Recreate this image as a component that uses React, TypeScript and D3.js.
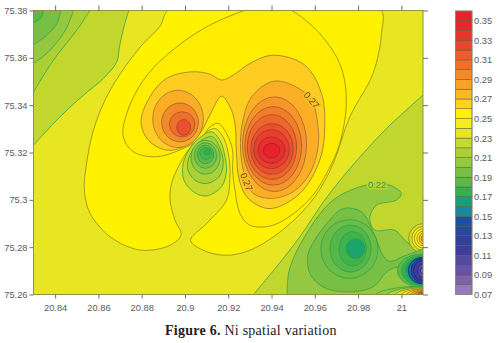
import React, { useEffect, useRef } from "react";
import * as d3 from "d3";

type Pt = [number, number];

const xDomain: Pt = [20.83, 21.01];
const yDomain: Pt = [75.26, 75.38];
const xTicks = [20.84, 20.86, 20.88, 20.9, 20.92, 20.94, 20.96, 20.98, 21];
const yTicks = [75.26, 75.28, 75.3, 75.32, 75.34, 75.36, 75.38];

const barLevels = [0.07,0.08,0.09,0.1,0.11,0.12,0.13,0.14,0.15,0.16,0.17,0.18,0.19,0.2,0.21,0.22,0.23,0.24,0.25,0.26,0.27,0.28,0.29,0.3,0.31,0.32,0.33,0.34,0.35];
const barColors = ["#9479bd","#7b62ae","#6552a5","#524a9f","#3d3e9b","#30409c","#27489f","#1d50a5","#1a86a3","#12a076","#36b04f","#5bb947","#78c044","#93c83f","#abcf36","#c7d92d","#e8e520","#f5ec1e","#fff200","#ffd21f","#fdb827","#f8a228","#f3892a","#ef702b","#ed5b2c","#ea452d","#e8352c","#e7272d","#e9222a"];
const barTicks = [0.07,0.09,0.11,0.13,0.15,0.17,0.19,0.21,0.23,0.25,0.27,0.29,0.31,0.33,0.35];

// Contour lines, in data units (longitude, latitude)
const cornerLine23: Pt[] = [[20.8743,75.3808],[20.8718,75.3731],[20.8697,75.3646],[20.8685,75.3583],[20.8623,75.3513],[20.8531,75.3442],[20.8423,75.3351],[20.83,75.3231]];
const cornerLine22: Pt[] = [[20.8566,75.3808],[20.85,75.3717],[20.8392,75.359],[20.83,75.3456]];
const cornerLine21: Pt[] = [[20.8488,75.3808],[20.8462,75.3745],[20.8438,75.3703],[20.8369,75.3625],[20.83,75.3576]];
const cornerLine20: Pt[] = [[20.8428,75.3808],[20.8408,75.3745],[20.8362,75.3696],[20.83,75.3656]];
const cornerLine19: Pt[] = [[20.8346,75.3808],[20.8338,75.3773],[20.83,75.3748]];

const yellowOutline: Pt[] = [[20.8931,75.3808],[20.8885,75.3734],[20.8808,75.3661],[20.8723,75.3562],[20.8638,75.3435],[20.8577,75.3294],[20.8543,75.3139],[20.8535,75.3041],[20.8562,75.2942],[20.8654,75.2844],[20.8762,75.2794],[20.8838,75.2787],[20.8931,75.2808],[20.8982,75.2851],[20.8954,75.2914],[20.8931,75.2999],[20.8938,75.3069],[20.8969,75.3139],[20.9015,75.321],[20.9069,75.3263],[20.9138,75.3301],[20.918,75.3259],[20.9205,75.3168],[20.9208,75.3097],[20.9192,75.2999],[20.91,75.29],[20.9026,75.283],[20.9069,75.2794],[20.9177,75.2766],[20.93,75.2787],[20.9469,75.2886],[20.96,75.3013],[20.9685,75.3154],[20.9762,75.3351],[20.9869,75.3534],[20.9908,75.3703],[20.99,75.3808]];
const wideOutline: Pt[] = [[20.9392,75.383],[20.9477,75.3808],[20.9608,75.3717],[20.9715,75.3576],[20.9746,75.3421],[20.9715,75.3238],[20.9662,75.3125],[20.9592,75.302],[20.9492,75.2935],[20.9392,75.2889],[20.93,75.2893],[20.9254,75.2942],[20.9231,75.3041],[20.922,75.3125],[20.922,75.321],[20.9192,75.328],[20.9154,75.3323],[20.9115,75.3308],[20.908,75.3266],[20.9008,75.3224],[20.8869,75.3182],[20.8762,75.3203],[20.8715,75.3266],[20.8731,75.3365],[20.8808,75.3506],[20.8915,75.3611],[20.91,75.3731],[20.93,75.3808]];
const dumbbellOutline: Pt[] = [[20.9169,75.3506],[20.9223,75.3527],[20.93,75.3576],[20.9408,75.3611],[20.9554,75.3569],[20.9631,75.3449],[20.9646,75.3308],[20.9623,75.3168],[20.9531,75.3027],[20.9392,75.2963],[20.9292,75.3006],[20.9251,75.3083],[20.9238,75.3196],[20.9231,75.3323],[20.9208,75.3393],[20.9169,75.3438],[20.9115,75.3358],[20.9069,75.328],[20.9,75.3227],[20.8915,75.321],[20.8831,75.3252],[20.8797,75.333],[20.8838,75.3435],[20.8915,75.3513],[20.9031,75.3541],[20.9115,75.3531]];
const ringLabelled27: Pt[] = [[20.9585,75.3421],[20.9615,75.3308],[20.9615,75.3224],[20.9577,75.3111],[20.95,75.3034],[20.94,75.3006],[20.9315,75.3027],[20.9277,75.3097],[20.9257,75.321],[20.9265,75.3323],[20.9308,75.3435],[20.9408,75.3501],[20.9508,75.348]];
const wellLoopOuter: Pt[] = [[20.9069,75.3263],[20.9123,75.3287],[20.9162,75.3252],[20.9185,75.3182],[20.9192,75.3125],[20.9169,75.3055],[20.91,75.3017],[20.9046,75.303],[20.8995,75.3083],[20.8992,75.3154],[20.9023,75.3217]];
const wellLoopInner: Pt[] = [[20.9077,75.3252],[20.9128,75.3266],[20.9162,75.3217],[20.9177,75.3154],[20.9157,75.3097],[20.91,75.3069],[20.9046,75.3083],[20.9012,75.3132],[20.9023,75.3189]];
const limeBoundary: Pt[] = [[21.0108,75.3449],[20.9931,75.3301],[20.9762,75.3132],[20.9646,75.2999],[20.9531,75.2844],[20.9423,75.2717],[20.9308,75.259]];
const line22: Pt[] = [[20.9472,75.259],[20.9482,75.2703],[20.9562,75.2858],[20.9685,75.2999],[20.9838,75.3062],[20.9946,75.3062],[21.0,75.3027],[20.9977,75.2999],[20.9885,75.2977],[20.9854,75.2921],[20.9877,75.2872],[20.9969,75.2872],[21.0023,75.2823],[21.0092,75.2785],[21.0123,75.2773]];
const neckLoop: Pt[] = [[20.9938,75.2742],[20.9869,75.2865],[20.9815,75.2949],[20.9731,75.2963],[20.9662,75.2907],[20.96,75.283],[20.9568,75.2766],[20.9577,75.2689],[20.9638,75.2632],[20.9746,75.2611],[20.9869,75.2632],[20.9938,75.27],[21.0038,75.2731],[21.013,75.2759],[21.013,75.2794],[21.0023,75.2766]];

// Rings read as ellipses: [colour band, centre x, centre y, radius x, radius y]
type Ring = [number, number, number, number, number];
const rightPeakRings: Ring[] = [[0.285,20.9414,75.3235,0.0148,0.02],[0.295,20.9408,75.3228,0.0131,0.0166],[0.305,20.9402,75.3223,0.0114,0.0137],[0.315,20.9402,75.3215,0.0098,0.0107],[0.325,20.94,75.3214,0.0082,0.0082],[0.335,20.94,75.321,0.0062,0.0056],[0.35,20.94,75.3208,0.0038,0.0031]];
const leftPeakRings: Ring[] = [[0.275,20.8968,75.3342,0.0117,0.0121],[0.29,20.8977,75.3327,0.0085,0.0082],[0.3,20.8987,75.3319,0.0059,0.0053],[0.315,20.8994,75.3306,0.0032,0.0033]];
const wellRings: Ring[] = [[0.2,20.9095,75.318,0.0067,0.0072],[0.19,20.9095,75.3187,0.0052,0.0054],[0.18,20.9095,75.3192,0.0038,0.0039],[0.175,20.9097,75.3196,0.0028,0.0025],[0.17,20.9102,75.3201,0.0014,0.0012]];
const blobRings: Ring[] = [[0.185,20.976,75.2792,0.0132,0.0124],[0.178,20.9765,75.2794,0.0095,0.0099],[0.172,20.9775,75.2793,0.0063,0.0073],[0.163,20.9788,75.2794,0.0043,0.0042]];
const edgeHighRings: Ring[] = [[0.225,21.0103,75.2837,0.0069,0.0063],[0.235,21.0103,75.2837,0.0055,0.0051],[0.245,21.0103,75.2837,0.0043,0.0041],[0.255,21.0103,75.2837,0.0031,0.0031],[0.265,21.0103,75.2837,0.002,0.0023],[0.28,21.0103,75.2837,0.0011,0.0014]];
const bottomHighRings: Ring[] = [[0.2,21.01,75.2586,0.0231,0.0049],[0.215,21.01,75.2586,0.0177,0.0046],[0.23,21.01,75.2586,0.0138,0.0042],[0.245,21.01,75.2586,0.0108,0.0039],[0.26,21.01,75.2586,0.0085,0.0037],[0.275,21.01,75.2586,0.0065,0.0034],[0.29,21.01,75.2586,0.0049,0.003],[0.31,21.01,75.2586,0.0034,0.0025],[0.33,21.01,75.2586,0.0018,0.0018]];
const edgeLowRings: Ring[] = [[0.18,21.0097,75.2701,0.0115,0.007],[0.17,21.0097,75.2701,0.0095,0.0065],[0.16,21.0097,75.2701,0.0077,0.0061],[0.145,21.0097,75.2701,0.0065,0.0056],[0.125,21.0097,75.2701,0.0052,0.0051],[0.11,21.0097,75.2701,0.004,0.0042],[0.1,21.0097,75.2701,0.0022,0.0028],[0.08,21.0097,75.2701,0.0009,0.0011]];

const lineLabels: { text: string; x: number; y: number; rot: number; bg: string; color: string }[] = [
  { text: "0.27", x: 20.9585, y: 75.3421, rot: 50, bg: "#fdc023", color: "#6b4a20" },
  { text: "0.27", x: 20.9285, y: 75.3076, rot: 68, bg: "#fdc023", color: "#6b4a20" },
  { text: "0.22", x: 20.9888, y: 75.3062, rot: 0, bg: "#b6d333", color: "#3f9a4c" },
];

export default function App() {
  const ref = useRef<SVGSVGElement>(null);
  useEffect(() => {
    const svg = d3.select(ref.current);
    svg.selectAll("*").remove();
    const x = d3.scaleLinear().domain(xDomain).range([33.5, 423]);
    const y = d3.scaleLinear().domain(yDomain).range([294.5, 10.5]);
    const col = d3.scaleLinear<string>().domain(barLevels).range(barColors).clamp(true);
    const lineColor = (b: number) => {
      if (b < 0.15) return "#1d2470";
      if (b < 0.225) return "#2f9f47";
      return d3.interpolateRgb(col(b), "#333333")(b > 0.27 ? 0.48 : 0.58);
    };
    const openLine = d3.line<Pt>().x((d) => x(d[0])).y((d) => y(d[1])).curve(d3.curveCatmullRom.alpha(0.5));
    const closedLine = d3.line<Pt>().x((d) => x(d[0])).y((d) => y(d[1])).curve(d3.curveCatmullRomClosed.alpha(0.5));

    const defs = svg.append("defs");
    defs.append("clipPath").attr("id", "plotClip").append("rect")
      .attr("x", x(xDomain[0])).attr("y", y(yDomain[1]))
      .attr("width", x(xDomain[1]) - x(xDomain[0])).attr("height", y(yDomain[0]) - y(yDomain[1]));
    defs.append("filter").attr("id", "soft").attr("x", "-5%").attr("y", "-5%").attr("width", "110%").attr("height", "110%")
      .append("feGaussianBlur").attr("stdDeviation", 0.45);

    const plot = svg.append("g").attr("clip-path", "url(#plotClip)").append("g").attr("filter", "url(#soft)");
    plot.append("rect").attr("x", 20).attr("y", 0).attr("width", 420).attr("height", 310).attr("fill", col(0.23));

    const openArea = (pts: Pt[], via: Pt[], band: number) => {
      const d = openLine(pts) as string;
      const tail = via.map((p) => `L${x(p[0])},${y(p[1])}`).join("");
      plot.append("path").attr("d", d + tail + "Z").attr("fill", col(band));
      plot.append("path").attr("d", d).attr("fill", "none").attr("stroke", lineColor(band)).attr("stroke-width", 0.75);
    };
    const loop = (pts: Pt[], band: number) => {
      plot.append("path").attr("d", closedLine(pts) as string).attr("fill", col(band))
        .attr("stroke", lineColor(band)).attr("stroke-width", 0.75);
    };
    const rings = (list: Ring[]) => {
      list.forEach(([b, cx, cy, rx, ry]) => {
        plot.append("ellipse").attr("cx", x(cx)).attr("cy", y(cy))
          .attr("rx", x(cx + rx) - x(cx)).attr("ry", y(cy - ry) - y(cy))
          .attr("fill", col(b)).attr("stroke", lineColor(b)).attr("stroke-width", 0.75);
      });
    };

    const topLeft: Pt[] = [[20.825, 75.385]];
    openArea(cornerLine23, topLeft, 0.218);
    openArea(cornerLine22, topLeft, 0.21);
    openArea(cornerLine21, topLeft, 0.2);
    openArea(cornerLine20, topLeft, 0.19);
    openArea(cornerLine19, topLeft, 0.18);

    loop(yellowOutline, 0.25);
    loop(wideOutline, 0.252);
    loop(dumbbellOutline, 0.262);
    loop(ringLabelled27, 0.275);
    rings(rightPeakRings);
    rings(leftPeakRings);
    loop(wellLoopOuter, 0.22);
    loop(wellLoopInner, 0.21);
    rings(wellRings);

    openArea(limeBoundary, [[21.015, 75.255], [21.015, 75.3449]], 0.218);
    openArea(line22, [[21.0123, 75.255], [20.9472, 75.255]], 0.2);
    rings(edgeHighRings);
    loop(neckLoop, 0.19);
    rings(blobRings);
    rings(bottomHighRings);
    rings(edgeLowRings);

    const lab = plot.append("g");
    lineLabels.forEach((l) => {
      lab.append("text").text(l.text)
        .attr("transform", `translate(${x(l.x)},${y(l.y)}) rotate(${l.rot})`)
        .attr("text-anchor", "middle").attr("dy", "0.35em")
        .attr("font-family", "Liberation Sans").attr("font-size", 9.5)
        .attr("fill", l.color).attr("stroke", l.bg).attr("stroke-width", 3)
        .attr("paint-order", "stroke");
    });

    svg.append("rect").attr("x", x(xDomain[0])).attr("y", y(yDomain[1]))
      .attr("width", x(xDomain[1]) - x(xDomain[0])).attr("height", y(yDomain[0]) - y(yDomain[1]))
      .attr("fill", "none").attr("stroke", "#8d9245").attr("stroke-width", 1);

    const style = (g: d3.Selection<SVGGElement, unknown, null, undefined>) => {
      g.select(".domain").remove();
      g.selectAll("line").attr("stroke", "#6f6f5c");
      g.selectAll("text").attr("font-family", "Liberation Sans").attr("font-size", 9.3).attr("fill", "#5a5a5a");
    };
    const fmt = (d: d3.NumberValue) => String(+d);
    (svg.append("g") as any).attr("transform", `translate(0,${y(yDomain[0])})`)
      .call(d3.axisBottom(x).tickValues(xTicks).tickFormat(fmt).tickSize(4).tickPadding(6)).call(style);
    (svg.append("g") as any).attr("transform", `translate(0,${y(yDomain[1])})`)
      .call(d3.axisTop(x).tickValues(xTicks).tickFormat(() => "").tickSize(5)).call(style);
    (svg.append("g") as any).attr("transform", `translate(${x(xDomain[0])},0)`)
      .call(d3.axisLeft(y).tickValues(yTicks).tickFormat(fmt).tickSize(4).tickPadding(2)).call(style);
    (svg.append("g") as any).attr("transform", `translate(${x(xDomain[1])},0)`)
      .call(d3.axisRight(y).tickValues(yTicks).tickFormat(() => "").tickSize(5)).call(style);

    // colour bar
    const bar = d3.scaleLinear().domain([0.07, 0.36]).range([294.5, 11]);
    const barX = 455.5, barW = 16.5;
    const barG = svg.append("g").attr("filter", "url(#soft)");
    barLevels.forEach((lv, i) => {
      barG.append("rect").attr("x", barX).attr("width", barW)
        .attr("y", bar(lv + 0.01)).attr("height", bar(lv) - bar(lv + 0.01))
        .attr("fill", barColors[i]).attr("stroke", "#5a5a3a").attr("stroke-width", 0.5);
    });
    barG.append("rect").attr("x", barX).attr("y", bar(0.36)).attr("width", barW).attr("height", bar(0.07) - bar(0.36))
      .attr("fill", "none").attr("stroke", "#8a8a8a").attr("stroke-width", 0.8);
    (svg.append("g") as any).attr("transform", `translate(${barX + barW},0)`)
      .call(d3.axisRight(bar).tickValues(barTicks).tickFormat(d3.format(".2f") as any).tickSize(0).tickPadding(2)).call(style);

    const cap = svg.append("text").attr("x", 165).attr("y", 335)
      .attr("font-family", "Liberation Serif").attr("font-size", 14).attr("letter-spacing", 0.25).attr("fill", "#222");
    cap.append("tspan").attr("font-weight", "bold").text("Figure 6.");
    cap.append("tspan").text(" Ni spatial variation");
  }, []);
  return <svg ref={ref} width={501} height={343} style={{ position: "absolute", left: 0, top: 0, background: "#fff" }} />;
}
